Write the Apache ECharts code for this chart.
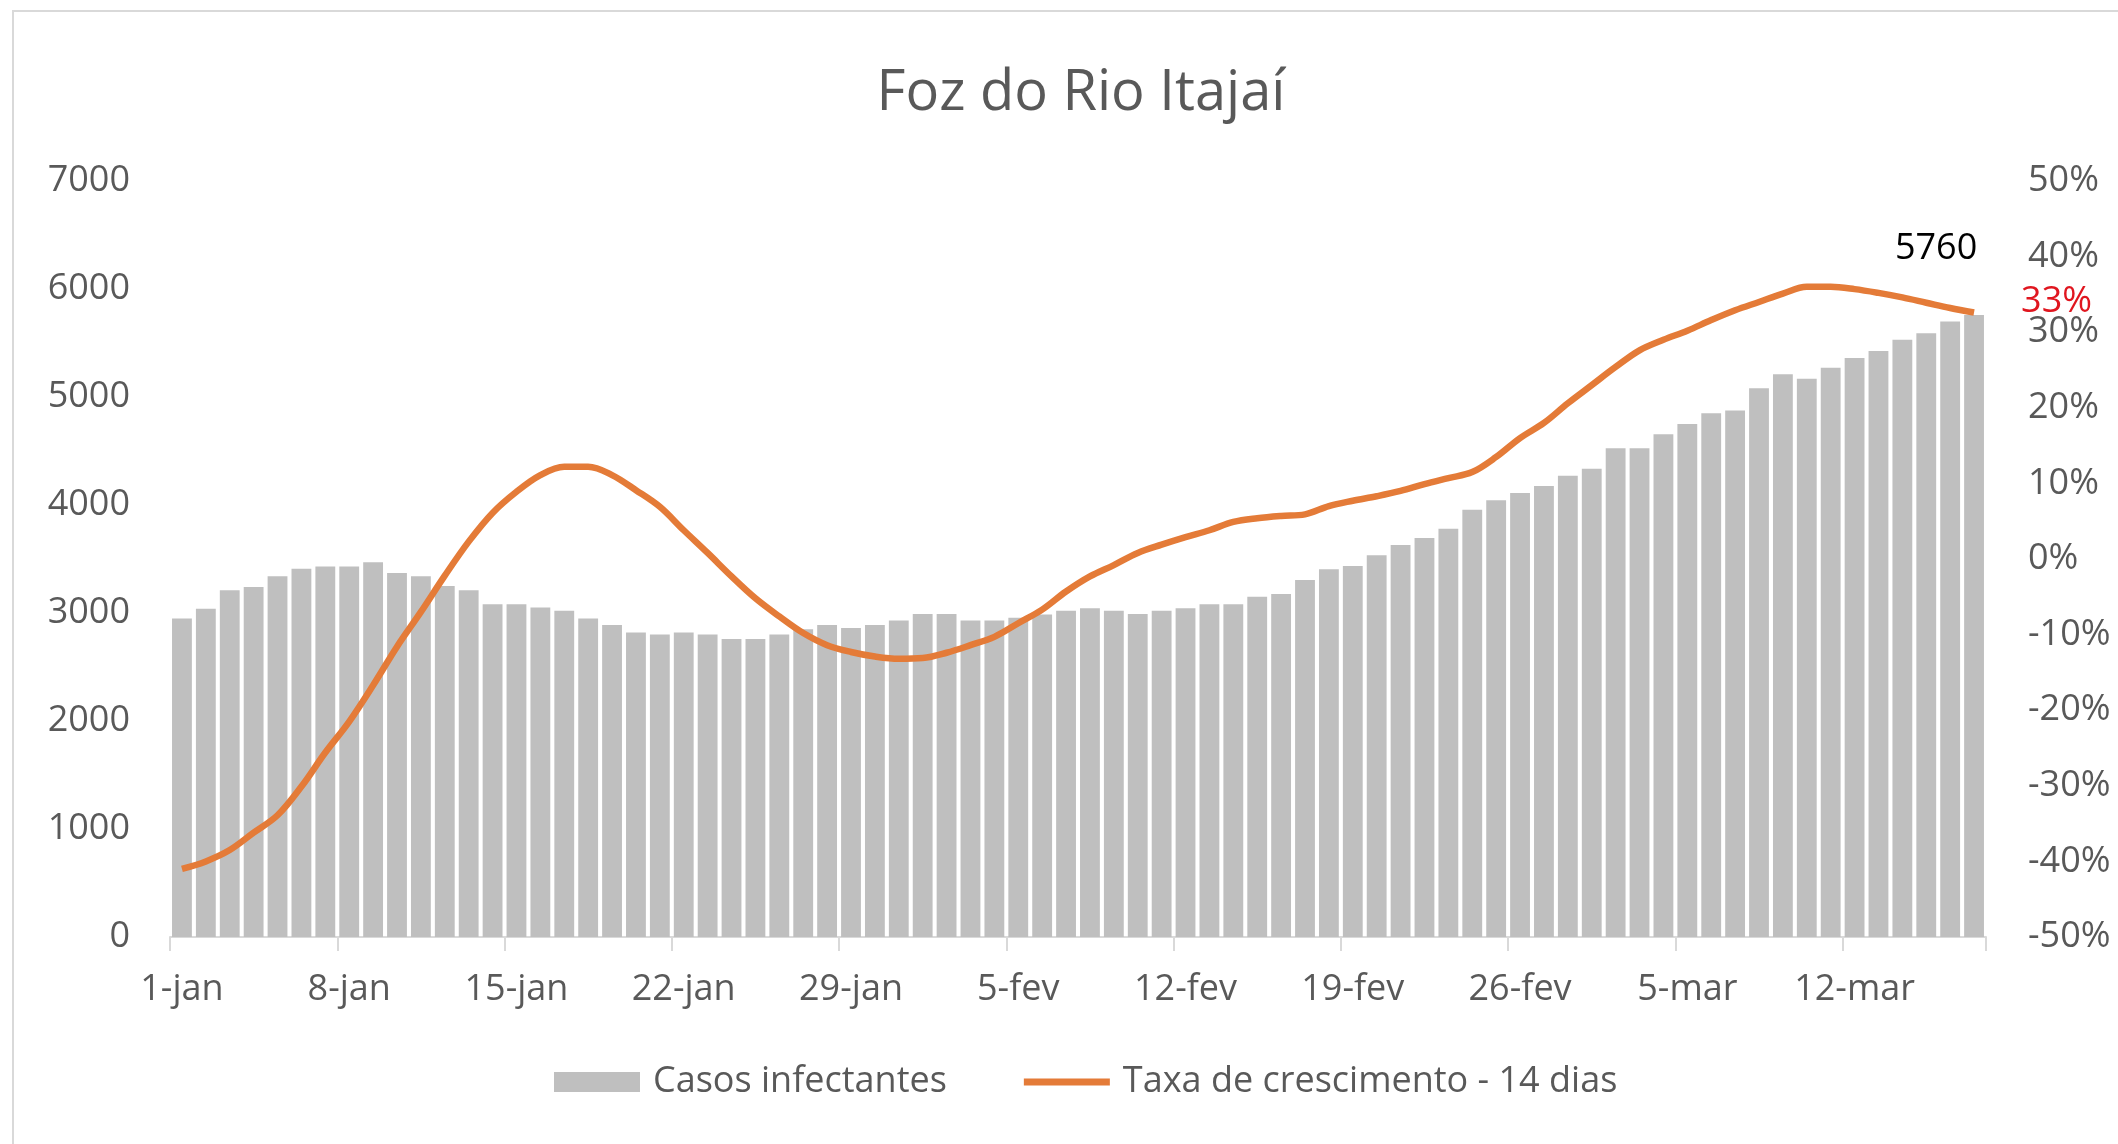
<!DOCTYPE html>
<html>
<head>
<meta charset="utf-8">
<script src="https://cdn.jsdelivr.net/npm/echarts@6/dist/echarts.min.js"></script>
<style>
  html, body { margin: 0; padding: 0; background: #ffffff; }
  #chart { width: 2118px; height: 1144px; }
</style>
</head>
<body>
<div id="chart"></div>
<script>
// ---- data ----
const titleText = 'Foz do Rio Itajaí';
const seriesBarName = 'Casos infectantes';
const seriesLineName = 'Taxa de crescimento - 14 dias';

const categories = [
  '1-jan','2-jan','3-jan','4-jan','5-jan','6-jan','7-jan','8-jan','9-jan','10-jan',
  '11-jan','12-jan','13-jan','14-jan','15-jan','16-jan','17-jan','18-jan','19-jan','20-jan',
  '21-jan','22-jan','23-jan','24-jan','25-jan','26-jan','27-jan','28-jan','29-jan','30-jan',
  '31-jan','1-fev','2-fev','3-fev','4-fev','5-fev','6-fev','7-fev','8-fev','9-fev',
  '10-fev','11-fev','12-fev','13-fev','14-fev','15-fev','16-fev','17-fev','18-fev','19-fev',
  '20-fev','21-fev','22-fev','23-fev','24-fev','25-fev','26-fev','27-fev','28-fev','1-mar',
  '2-mar','3-mar','4-mar','5-mar','6-mar','7-mar','8-mar','9-mar','10-mar','11-mar',
  '12-mar','13-mar','14-mar','15-mar','16-mar','17-mar'
];

const casosInfectantes = [
  2950, 3040, 3210, 3240, 3340, 3410, 3430, 3430, 3470, 3370,
  3340, 3250, 3210, 3080, 3080, 3050, 3020, 2950, 2890, 2820,
  2800, 2820, 2800, 2760, 2760, 2800, 2850, 2890, 2860, 2890,
  2930, 2990, 2990, 2930, 2930, 2955, 2985, 3020, 3045, 3020,
  2990, 3020, 3045, 3080, 3080, 3150, 3175, 3305, 3405, 3435,
  3535, 3630, 3695, 3780, 3955, 4045, 4110, 4175, 4270, 4335,
  4525, 4525, 4655, 4750, 4850, 4875, 5080, 5210, 5170, 5270,
  5360, 5425, 5530, 5590, 5700, 5760
];

const taxaCrescimento = [
  -41.0, -40.0, -38.5, -36.2, -33.9, -30.1, -25.6, -21.5, -16.7, -11.6,
  -7.0, -2.2, 2.3, 6.1, 8.9, 11.1, 12.2, 12.2, 11.1, 9.1,
  6.9, 3.8, 0.8, -2.3, -5.2, -7.6, -9.8, -11.4, -12.3, -12.9,
  -13.2, -13.1, -12.4, -11.4, -10.3, -8.5, -6.7, -4.3, -2.3, -0.8,
  0.8, 1.9, 2.9, 3.8, 4.9, 5.4, 5.7, 5.9, 7.0, 7.7,
  8.3, 9.0, 9.9, 10.7, 11.5, 13.5, 16.0, 18.0, 20.6, 23.0,
  25.4, 27.6, 29.0, 30.2, 31.6, 32.9, 34.0, 35.1, 36.0, 36.0,
  35.7, 35.2, 34.6, 33.9, 33.2, 32.6
];

const leftTicks = { min: 0, max: 7000, interval: 1000 };
const rightTicks = { min: -50, max: 50, interval: 10 };

// ---- chart ----
const FONT = 'Open Sans';
const GREY_TXT = '#595959';
const ORANGE = '#E47B38';
const lastIdx = casosInfectantes.length - 1;

const barData = casosInfectantes.map((v, i) => i === lastIdx ? {
  value: v,
  label: {
    show: true, position: 'top', offset: [-38, -43],
    color: '#000000', fontFamily: FONT, fontSize: 36,
    formatter: (p) => String(p.value)
  }
} : v);

const chart = echarts.init(document.getElementById('chart'), null, { renderer: 'canvas' });
chart.setOption({
  backgroundColor: '#ffffff',
  animation: false,
  title: {
    text: titleText,
    left: 1076, top: 61, textAlign: 'center',
    textStyle: { fontFamily: FONT, fontSize: 56, fontWeight: 'normal', color: GREY_TXT }
  },
  graphic: [{
    type: 'rect', silent: true,
    shape: { x: 13, y: 11, width: 2300, height: 1300 },
    style: { fill: 'none', stroke: '#D9D9D9', lineWidth: 2 }
  }],
  legend: {
    left: 554, top: 1064, padding: 0,
    itemWidth: 86, itemHeight: 20, itemGap: 77,
    textStyle: { fontFamily: FONT, fontSize: 36, color: GREY_TXT, padding: [0, 0, 0, 8] },
    data: [
      { name: seriesBarName, icon: 'rect', itemStyle: { color: '#BFBFBF' } },
      { name: seriesLineName, icon: 'path://M0,0 M0,20 L0,13.5 L86,13.5 L86,6.5 L0,6.5 Z',
        itemStyle: { color: ORANGE, borderWidth: 0 } }
    ]
  },
  grid: { left: 170, right: 132, top: 181, bottom: 207 },
  xAxis: {
    type: 'category',
    data: categories,
    boundaryGap: true,
    axisLine: { lineStyle: { color: '#D9D9D9', width: 2 } },
    axisTick: { show: true, length: 14, interval: (idx) => idx % 7 === 0, lineStyle: { color: '#D9D9D9', width: 2 } },
    axisLabel: { interval: 6, margin: 35, fontFamily: FONT, fontSize: 36, color: GREY_TXT },
    splitLine: { show: false }
  },
  yAxis: [{
    type: 'value',
    min: leftTicks.min, max: leftTicks.max, interval: leftTicks.interval,
    axisLine: { show: false }, axisTick: { show: false },
    splitLine: { show: false },
    axisLabel: { margin: 40, fontFamily: FONT, fontSize: 36, color: GREY_TXT, formatter: (v) => String(v) }
  }, {
    type: 'value', position: 'right',
    min: rightTicks.min, max: rightTicks.max, interval: rightTicks.interval,
    axisLine: { show: false }, axisTick: { show: false },
    splitLine: { show: false },
    axisLabel: { margin: 42, fontFamily: FONT, fontSize: 36, color: GREY_TXT, formatter: '{value}%' }
  }],
  series: [{
    name: seriesBarName,
    type: 'bar',
    yAxisIndex: 0,
    data: barData,
    barCategoryGap: '17%',
    itemStyle: { color: '#BFBFBF' },
    z: 2
  }, {
    name: seriesLineName,
    type: 'line',
    yAxisIndex: 1,
    data: taxaCrescimento,
    smooth: 0.35,
    showSymbol: false,
    symbol: 'none',
    lineStyle: { color: ORANGE, width: 6.5 },
    itemStyle: { color: ORANGE },
    endLabel: {
      show: true,
      distance: 5,
      offset: [42, -11],
      color: '#E0161F', fontFamily: FONT, fontSize: 36,
      formatter: (p) => Math.round(p.value) + '%'
    },
    z: 3
  }]
});
</script>
</body>
</html>
